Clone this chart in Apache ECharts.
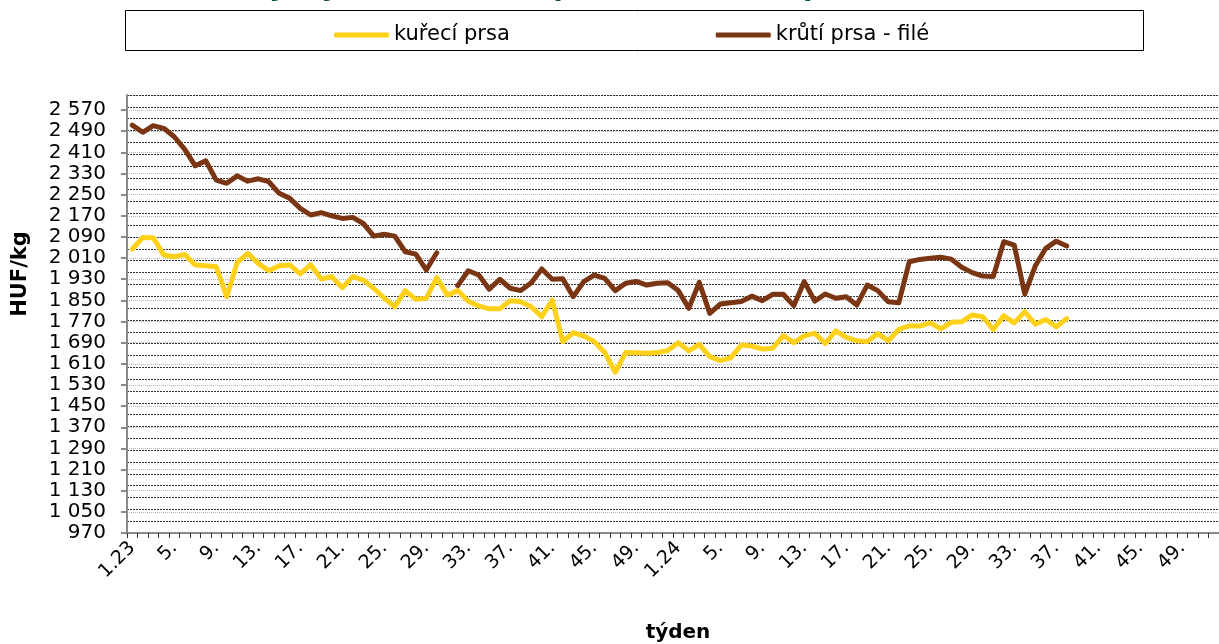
<!DOCTYPE html>
<html><head><meta charset="utf-8">
<script src="https://cdn.jsdelivr.net/npm/echarts@6/dist/echarts.min.js"></script>
<style>html,body{margin:0;padding:0;background:#fff}#c{width:1219px;height:644px}</style>
</head><body><div id="c"></div><script>
const weekLabels = [
 '1.23','2.','3.','4.','5.','6.','7.','8.','9.','10.','11.','12.','13.','14.','15.','16.','17.','18.','19.','20.','21.','22.','23.','24.','25.','26.',
 '27.','28.','29.','30.','31.','32.','33.','34.','35.','36.','37.','38.','39.','40.','41.','42.','43.','44.','45.','46.','47.','48.','49.','50.','51.','52.',
 '1.24','2.','3.','4.','5.','6.','7.','8.','9.','10.','11.','12.','13.','14.','15.','16.','17.','18.','19.','20.','21.','22.','23.','24.','25.','26.',
 '27.','28.','29.','30.','31.','32.','33.','34.','35.','36.','37.','38.','39.','40.','41.','42.','43.','44.','45.','46.','47.','48.','49.','50.','51.','52.'
];
const chickenBreast = [
 2044,2088,2087,2022,2015,2024,1984,1981,1977,1864,1994,2028,1990,1962,1981,1984,1950,1985,1931,1940,
 1898,1940,1927,1896,1858,1826,1887,1854,1858,1936,1870,1887,1847,1829,1818,1818,1849,1845,1826,1788,
 1851,1694,1728,1715,1694,1653,1578,1653,1652,1650,1653,1660,1690,1659,1684,1637,1622,1633,1681,1677,
 1666,1669,1717,1690,1716,1726,1687,1735,1710,1697,1694,1725,1697,1740,1754,1753,1765,1742,1767,1769,
 1795,1788,1740,1792,1765,1807,1760,1778,1750,1781,
 null,null,null,null,null,null,null,null,null,null,null,null,null,null
];
const turkeyFillet = [
 2513,2486,2511,2501,2469,2421,2359,2378,2305,2293,2321,2301,2310,2299,2255,2236,2198,2173,2182,2170,
 2160,2164,2141,2093,2100,2093,2034,2025,1965,2030,null,1906,1962,1946,1892,1930,1896,1887,1917,1969,
 1930,1932,1864,1921,1946,1933,1887,1915,1922,1908,1915,1917,1887,1820,1918,1801,1836,1841,1846,1866,
 1849,1873,1873,1830,1921,1847,1874,1858,1864,1832,1908,1887,1845,1841,1996,2005,2009,2013,2006,1975,
 1955,1942,1940,2072,2059,1874,1980,2047,2074,2056,
 null,null,null,null,null,null,null,null,null,null,null,null,null,null
];
const seriesNames = ['kuřecí prsa', 'krůtí prsa - filé'];
const seriesColors = ['#FFD11A', '#7A3512'];
const yMin = 970, yMax = 2627, yStep = 80;
const titleText = 'Vývoj cen kuřecích prsou a krůtích prsou - filé v Maďarsku';
const yName = 'HUF/kg', xName = 'týden';

const FONT = 'DejaVu Sans';
const fmt = v => { const s = String(Math.round(v)); return s.length > 3 ? s.slice(0, s.length-3) + ' ' + s.slice(-3) : s; };

const chart = echarts.init(document.getElementById('c'), null, {renderer: 'canvas'});
chart.setOption({
  animation: false,
  backgroundColor: '#fff',
  textStyle: {fontFamily: FONT},
  grid: {left: 127, right: -3, top: 95, bottom: 111, containLabel: false},
  legend: {
    left: 329, top: 18, itemWidth: 55, itemHeight: 5, itemGap: 206, icon: 'roundRect',
    textStyle: {fontFamily: FONT, fontSize: 21, color: '#000', lineHeight: 24},
    data: seriesNames
  },
  xAxis: {
    type: 'category', data: weekLabels, boundaryGap: true,
    axisLine: {show: true, lineStyle: {color: '#8a8a8a', width: 2}},
    axisTick: {show: true, interval: 0, length: 5, lineStyle: {color: '#333', width: 1}},
    axisLabel: {interval: 3, rotate: 45, fontSize: 19, margin: 12, color: '#000', fontFamily: FONT},
    splitLine: {show: false}
  },
  yAxis: [{
    type: 'value', min: yMin, max: yMax, interval: yStep,
    axisLine: {show: true, lineStyle: {color: '#8a8a8a', width: 2}},
    axisTick: {show: true, length: 6, lineStyle: {color: '#8a8a8a', width: 2}},
    axisLabel: {fontSize: 20, color: '#000', margin: 21, showMaxLabel: false, fontFamily: FONT, formatter: fmt},
    splitLine: {show: true, lineStyle: {color: '#b4b4b4', type: 'dotted', width: 1}}
  }, {
    type: 'value', min: 0, max: 37, interval: 1, position: 'right',
    axisLine: {show: false}, axisTick: {show: false}, axisLabel: {show: false},
    splitLine: {show: true, lineStyle: {color: '#333', type: [2, 1], width: 1}}
  }],
  series: [{
    name: seriesNames[0], type: 'line', data: chickenBreast, yAxisIndex: 0,
    symbol: 'none', connectNulls: false, color: seriesColors[0],
    lineStyle: {width: 5, color: seriesColors[0], cap: 'round', join: 'round'}, z: 3
  }, {
    name: seriesNames[1], type: 'line', data: turkeyFillet, yAxisIndex: 0,
    symbol: 'none', connectNulls: false, color: seriesColors[1],
    lineStyle: {width: 5, color: seriesColors[1], cap: 'round', join: 'round'}, z: 4
  }],
  graphic: [
    {type: 'rect', shape: {x: 125.5, y: 10.5, width: 1018, height: 40}, style: {fill: '#fff', stroke: '#000', lineWidth: 1}, z: -1},
    {type: 'text', x: 250, y: 2, style: {text: titleText, font: 'italic bold 28px "DejaVu Sans"', fill: '#0D5B33', verticalAlign: 'bottom', align: 'left'}},
    {type: 'text', x: 21, y: 274, rotation: Math.PI/2, style: {text: yName, font: 'bold 21px "DejaVu Sans"', fill: '#000', align: 'center', verticalAlign: 'middle'}},
    {type: 'text', x: 678, y: 633, style: {text: xName, font: 'bold 20px "DejaVu Sans"', fill: '#000', align: 'center', verticalAlign: 'middle'}}
  ]
});
</script></body></html>
